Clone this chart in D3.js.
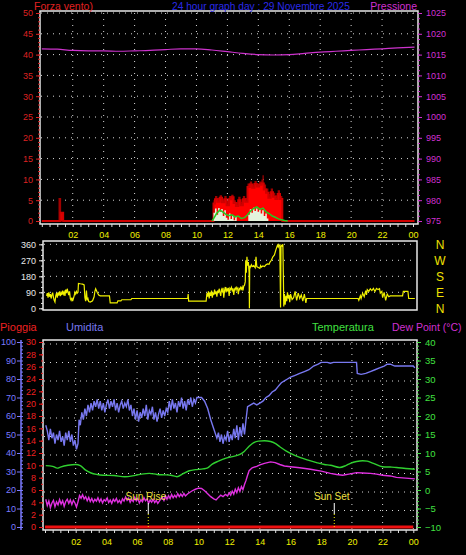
<!DOCTYPE html>
<html><head><meta charset="utf-8">
<script src="https://cdn.jsdelivr.net/npm/d3@7"></script>
<style>
html,body{margin:0;padding:0;background:#000;}
svg{display:block;font-family:"Liberation Sans",Arial,sans-serif;}
</style></head>
<body><div id="chart"></div>
<script>
// ---------------- DATA ----------------
const hourTicks = [2,4,6,8,10,12,14,16,18,20,22,24];
const hourLabels = ["02","04","06","08","10","12","14","16","18","20","22","00"];
const windTicks = [0,5,10,15,20,25,30,35,40,45,50];
const pressTicks = [975,980,985,990,995,1000,1005,1010,1015,1020,1025];
const dirTicks = [0,90,180,270,360];
const dirLetters = ["N","E","S","W","N"];
const humTicks = [0,10,20,30,40,50,60,70,80,90,100];
const rainTicks = [0,2,4,6,8,10,12,14,16,18,20,22,24,26,28,30];
const tempTicks = [-10,-5,0,5,10,15,20,25,30,35,40];

const pressHours = [0,1,2,3,4,5,6,7,8,9,10,11,12,13,14,15,16,17,18,19,20,21,22,23,24.1];
const pressure = [1016.4,1016.3,1016.0,1015.9,1015.9,1015.8,1015.9,1016.0,1016.2,1016.4,1016.4,1016.1,1015.7,1015.3,1015.0,1014.9,1015.0,1015.3,1015.6,1015.8,1016.0,1016.2,1016.4,1016.6,1016.8];

const windGust = [[0,0],[1.05,0],[1.08,5.5],[1.2,5.5],[1.25,0],[11.05,0],[11.1,5.0],[11.2,6.0],[11.35,5.5],[11.5,6.2],[11.65,5.2],[11.8,6.0],[11.95,4.8],[12.1,6.0],[12.25,6.3],[12.4,5.0],[12.55,4.5],[12.7,5.8],[12.85,4.6],[13.0,6.0],[13.15,5.5],[13.3,9.0],[13.45,9.5],[13.6,8.8],[13.75,9.6],[13.9,9.0],[14.05,9.5],[14.2,10.0],[14.27,11.0],[14.35,8.8],[14.5,7.8],[14.65,6.5],[14.8,7.8],[14.95,6.8],[15.1,6.2],[15.25,7.4],[15.4,6.0],[15.55,0],[24.1,0]];
const windSpeed = [[0,0],[1.2,0],[1.22,2.0],[1.35,2.0],[1.38,0],[11.05,0],[11.1,4.2],[11.2,5.2],[11.35,4.6],[11.5,5.6],[11.65,4.5],[11.8,5.2],[11.95,3.8],[12.1,5.2],[12.25,5.7],[12.4,4.3],[12.55,3.6],[12.7,5.0],[12.85,3.8],[13.0,5.2],[13.15,4.6],[13.3,8.2],[13.45,8.8],[13.6,8.0],[13.75,8.9],[13.9,8.3],[14.05,8.7],[14.2,9.0],[14.35,7.6],[14.5,6.8],[14.65,5.6],[14.8,6.9],[14.95,5.8],[15.1,5.3],[15.25,6.5],[15.4,5.3],[15.55,0],[24.1,0]];
const windCalm = [[11.05,0],[11.1,2.0],[11.2,3.0],[11.3,1.5],[11.4,3.1],[11.5,2.2],[11.6,2.9],[11.7,1.2],[11.8,2.6],[11.9,0.8],[12.0,0.3],[12.1,1.8],[12.2,0.5],[12.3,1.4],[12.4,0.2],[12.5,1.0],[12.6,0],[13.3,0],[13.35,1.5],[13.45,2.8],[13.55,2.0],[13.65,3.2],[13.75,2.4],[13.85,3.0],[13.95,2.2],[14.05,2.9],[14.15,1.8],[14.25,2.6],[14.35,1.2],[14.45,1.8],[14.55,0.6],[14.65,0]];
const windAvg = [[11.0,0],[11.1,0.5],[11.3,1.8],[11.5,2.6],[11.7,2.2],[11.9,1.6],[12.1,1.3],[12.3,1.5],[12.5,1.0],[12.7,1.2],[12.9,0.6],[13.1,0.8],[13.3,1.5],[13.5,2.4],[13.7,3.0],[13.9,3.4],[14.1,2.8],[14.3,3.1],[14.5,2.2],[14.7,1.8],[14.9,1.2],[15.1,0.9],[15.3,0.5],[15.5,0.3],[15.7,0.1],[15.9,0]];

const windDir = [[0.1,70],[0.15,85],[0.2,60],[0.25,90],[0.3,65],[0.35,80],[0.4,55],[0.45,75],[0.5,88],[0.55,62],[0.6,45],[0.65,35],[0.7,70],[0.75,85],[0.8,60],[0.85,90],[0.9,72],[0.95,95],[1.0,68],[1.05,88],[1.1,75],[1.15,100],[1.2,80],[1.25,92],[1.3,70],[1.35,105],[1.4,85],[1.45,110],[1.5,90],[1.55,75],[1.6,95],[1.65,55],[1.7,45],[1.75,60],[1.8,40],[1.85,55],[1.9,70],[1.95,90],[2.0,80],[2.05,95],[2.1,85],[2.15,90],[2.18,140],[2.3,138],[2.45,136],[2.55,132],[2.6,60],[2.65,40],[2.7,100],[2.75,45],[2.8,55],[2.85,38],[2.95,35],[3.1,42],[3.2,65],[3.25,95],[3.3,110],[3.4,90],[3.5,75],[3.6,70],[4.2,70],[4.25,30],[4.7,30],[4.75,42],[4.95,42],[5.0,48],[5.6,48],[5.65,55],[9.3,55],[9.33,80],[9.36,40],[10.5,40],[10.55,85],[10.6,65],[10.65,95],[10.7,55],[10.75,90],[10.8,70],[10.85,100],[10.9,60],[10.95,88],[11.0,75],[11.05,105],[11.1,80],[11.15,95],[11.2,65],[11.25,100],[11.3,85],[11.35,110],[11.4,90],[11.45,70],[11.5,105],[11.55,95],[11.6,115],[11.65,60],[11.7,100],[11.75,120],[11.8,90],[11.85,110],[11.9,100],[11.95,115],[12.0,70],[12.05,112],[12.1,105],[12.15,118],[12.2,100],[12.25,112],[12.3,75],[12.35,108],[12.4,115],[12.45,102],[12.5,118],[12.55,110],[12.6,80],[12.65,112],[12.7,105],[12.75,118],[12.8,108],[12.85,120],[12.9,100],[12.95,125],[13.0,130],[13.05,150],[13.08,270],[13.12,200],[13.16,290],[13.2,240],[13.25,260],[13.3,200],[13.32,0],[13.34,240],[13.38,230],[13.45,245],[13.5,235],[13.6,240],[13.7,228],[13.75,290],[13.8,235],[13.9,230],[14.0,225],[14.05,240],[14.1,232],[14.2,238],[14.3,235],[14.4,245],[14.5,250],[14.6,248],[14.66,260],[14.75,270],[14.85,290],[14.95,300],[15.05,330],[15.15,355],[15.2,345],[15.25,358],[15.3,350],[15.35,5],[15.38,355],[15.45,350],[15.5,360],[15.53,200],[15.56,10],[15.6,80],[15.65,20],[15.7,70],[15.75,40],[15.8,90],[15.85,55],[15.9,75],[15.95,35],[16.0,80],[16.1,50],[16.2,60],[16.3,95],[16.4,45],[16.5,85],[16.6,55],[16.7,75],[16.8,40],[16.9,80],[17.0,30],[17.05,55],[20.4,55],[20.45,45],[20.55,70],[20.6,55],[20.7,85],[20.8,65],[20.9,100],[20.95,75],[21.0,105],[21.1,95],[21.2,110],[21.3,100],[21.4,112],[21.5,95],[21.6,112],[21.7,105],[21.8,110],[21.85,85],[21.95,95],[22.0,60],[22.1,90],[22.2,45],[22.3,80],[22.4,65],[22.5,70],[23.3,70],[23.35,95],[23.65,95],[23.7,55],[24.1,55]];

const humidity = [[0.05,55],[0.15,52],[0.25,47],[0.35,53],[0.45,48],[0.55,51],[0.65,45],[0.75,50],[0.85,47],[0.95,52],[1.05,46],[1.15,49],[1.25,44],[1.35,51],[1.45,47],[1.55,52],[1.65,46],[1.75,50],[1.85,44],[1.95,47],[2.05,42],[2.15,45],[2.22,58],[2.3,55],[2.4,62],[2.5,58],[2.6,64],[2.7,60],[2.8,66],[2.9,62],[3.0,67],[3.1,63],[3.2,68],[3.3,65],[3.4,69],[3.5,64],[3.6,68],[3.7,63],[3.8,67],[3.9,62],[4.0,66],[4.1,69],[4.2,64],[4.3,68],[4.4,65],[4.5,69],[4.6,63],[4.7,67],[4.8,62],[4.9,66],[5.0,68],[5.1,64],[5.2,67],[5.3,65],[5.4,69],[5.5,63],[5.6,66],[5.7,60],[5.8,64],[5.9,58],[6.0,63],[6.1,57],[6.2,62],[6.3,59],[6.4,64],[6.5,60],[6.6,66],[6.7,58],[6.8,63],[6.9,61],[7.0,65],[7.1,58],[7.2,62],[7.3,57],[7.4,61],[7.5,64],[7.6,59],[7.7,63],[7.8,60],[7.9,64],[8.0,62],[8.1,68],[8.2,63],[8.3,69],[8.4,64],[8.5,67],[8.6,62],[8.7,68],[8.8,65],[8.9,70],[9.0,64],[9.1,68],[9.2,63],[9.3,69],[9.4,66],[9.5,70],[9.6,65],[9.7,69],[9.8,67],[9.9,70],[10.0,70],[10.2,70],[10.4,68],[10.6,64],[10.8,58],[11.0,53],[11.2,48],[11.3,51],[11.4,46],[11.5,50],[11.6,45],[11.7,49],[11.8,47],[11.9,52],[12.0,46],[12.1,50],[12.2,47],[12.3,53],[12.4,48],[12.5,55],[12.6,47],[12.7,54],[12.8,49],[12.9,56],[13.0,50],[13.1,58],[13.2,65],[13.4,66],[13.6,67],[13.8,66],[14.0,67],[14.2,68],[14.4,70],[14.6,71],[14.8,73],[15.0,74],[15.2,76],[15.4,78],[15.6,79],[15.8,80],[16.0,81],[16.3,82],[16.6,83],[16.9,84],[17.2,85],[17.5,87],[17.8,88],[18.0,89],[18.4,89],[18.6,88.5],[18.8,89],[19.2,89],[19.6,89],[20.0,89],[20.3,89],[20.35,83],[20.6,82.5],[20.9,83],[21.2,84],[21.5,85],[21.8,86],[22.1,87],[22.3,88],[22.5,88],[22.8,87],[23.2,87],[23.6,87],[24.0,87],[24.1,86]];

const temperature = [[0.05,6.6],[0.5,6.4],[0.8,5.9],[1.0,6.2],[1.5,6.7],[2.0,6.9],[2.3,6.6],[2.6,5.5],[3.0,4.6],[3.4,4.2],[3.8,4.0],[4.5,3.9],[5.2,3.6],[5.8,3.9],[6.3,4.3],[6.8,4.5],[7.3,4.2],[7.8,4.1],[8.2,4.0],[8.6,3.6],[9.0,4.4],[9.4,5.2],[9.8,5.5],[10.3,5.7],[10.6,6.0],[10.9,7.0],[11.3,7.8],[11.8,8.6],[12.3,9.1],[12.7,9.6],[13.0,10.5],[13.3,11.8],[13.6,12.8],[13.9,13.2],[14.3,13.3],[14.7,13.1],[15.0,12.6],[15.3,11.7],[15.7,10.6],[16.0,9.9],[16.6,8.8],[17.2,8.0],[17.7,7.4],[18.2,6.9],[18.6,6.7],[19.2,6.1],[19.6,6.6],[19.9,7.2],[20.3,7.7],[20.7,7.9],[21.0,7.8],[21.4,7.2],[22.0,6.3],[22.5,6.2],[22.9,6.1],[23.5,5.8],[24.1,5.6]];

const dewPoint = [[0.05,-2.5],[0.15,-4.2],[0.25,-3.0],[0.35,-4.8],[0.45,-3.5],[0.55,-2.8],[0.65,-4.5],[0.75,-3.2],[0.85,-4.0],[0.95,-2.6],[1.05,-3.8],[1.15,-2.9],[1.25,-4.4],[1.35,-3.1],[1.45,-2.5],[1.55,-3.6],[1.65,-2.7],[1.75,-3.9],[1.85,-2.8],[1.95,-3.5],[2.05,-4.6],[2.15,-3.2],[2.25,-1.5],[2.35,-2.2],[2.45,-1.3],[2.55,-2.4],[2.65,-1.8],[2.75,-2.9],[2.85,-2.0],[2.95,-3.1],[3.05,-2.3],[3.15,-3.3],[3.25,-2.5],[3.35,-3.0],[3.45,-2.1],[3.55,-3.2],[3.65,-2.4],[3.75,-3.5],[3.85,-2.6],[3.95,-3.0],[4.05,-2.2],[4.15,-3.4],[4.25,-2.7],[4.35,-3.6],[4.45,-2.5],[4.55,-3.1],[4.65,-2.3],[4.75,-3.4],[4.85,-2.8],[4.95,-3.6],[5.05,-2.4],[5.15,-3.0],[5.25,-1.9],[5.35,-2.8],[5.45,-2.2],[5.55,-3.3],[5.65,-2.5],[5.75,-3.1],[5.85,-2.0],[5.95,-2.9],[6.05,-2.3],[6.15,-3.5],[6.25,-2.6],[6.35,-3.2],[6.45,-2.1],[6.55,-2.9],[6.65,-2.4],[6.75,-3.6],[6.85,-2.7],[6.95,-3.3],[7.05,-2.5],[7.15,-3.4],[7.25,-2.8],[7.35,-3.6],[7.45,-3.0],[7.55,-2.4],[7.65,-2.0],[7.75,-2.8],[7.85,-1.6],[7.95,-2.5],[8.05,-1.5],[8.15,-2.3],[8.25,-1.2],[8.35,-2.1],[8.45,-1.4],[8.55,-2.0],[8.65,-1.0],[8.75,-1.8],[8.85,-1.1],[8.95,-1.7],[9.05,-0.9],[9.15,-1.6],[9.3,-1.0],[9.45,-0.6],[9.6,-0.2],[9.8,0.2],[10.0,0.5],[10.2,0.4],[10.4,-0.2],[10.6,-1.0],[10.8,-1.8],[11.0,-2.4],[11.15,-2.7],[11.3,-2.0],[11.45,-1.4],[11.6,-1.8],[11.75,-1.2],[11.9,-1.6],[12.0,-0.8],[12.1,-1.4],[12.2,-0.3],[12.3,-1.1],[12.4,0.2],[12.5,-0.7],[12.6,0.6],[12.7,-0.4],[12.8,0.9],[12.9,0.1],[13.0,1.5],[13.1,2.6],[13.2,4.0],[13.3,5.2],[13.5,6.0],[13.8,6.4],[14.0,6.8],[14.3,7.2],[14.7,7.6],[15.0,7.4],[15.3,6.9],[15.6,6.5],[16.0,6.3],[16.6,6.0],[17.3,5.6],[18.0,5.1],[18.6,4.5],[19.0,4.2],[19.4,4.0],[19.8,4.3],[20.3,4.7],[20.7,4.6],[21.2,4.5],[21.6,4.3],[22.0,4.0],[22.5,3.8],[22.9,3.4],[23.5,3.2],[24.1,3.0]];

const rain = [[0,0],[24,0]];
const sunEvents = [{label:"Sun Rise", hour:6.73},{label:"Sun Set", hour:18.85}];

const titleText = "24 hour graph day : 29 Novembre 2025";

// ---------------- DRAW ----------------
const W = 466, H = 555;
const svg = d3.select("#chart").append("svg").attr("width", W).attr("height", H).style("background","#000");
const FONT = "\"Liberation Sans\",Arial,sans-serif";
const dot = "1,5";
const GRID = "#d8d8d8";
const fmtInt = d3.format("d");

function styleAxis(g, color, fs){
  g.select(".domain").remove();
  g.selectAll(".tick line").attr("stroke", color);
  g.selectAll(".tick text").attr("fill", color).style("font-size", fs+"px").style("font-family", FONT);
}
function txt(x,y,s,color,size,anchor){
  return svg.append("text").attr("x",x).attr("y",y).text(s).attr("fill",color)
    .style("font-size",size+"px").style("font-family",FONT).attr("text-anchor",anchor||"start");
}

// ===== Top panel =====
const xT = d3.scaleLinear().domain([0,24]).range([41.8,413]);
const yW = d3.scaleLinear().domain([0,50]).range([221,13]);
const yP = d3.scaleLinear().domain([975,1025]).range([221,13]);
const gTop = svg.append("g");
gTop.selectAll(".hg").data(windTicks.filter(d=>d>0)).join("line")
  .attr("x1",41).attr("x2",417).attr("y1",d=>yW(d)).attr("y2",d=>yW(d))
  .attr("stroke",GRID).attr("stroke-dasharray",dot);
gTop.selectAll(".vg").data(hourTicks).join("line")
  .attr("x1",d=>xT(d)).attr("x2",d=>xT(d)).attr("y1",13).attr("y2",223)
  .attr("stroke",GRID).attr("stroke-dasharray",dot);

const areaW = d3.area().x(d=>xT(d[0])).y0(yW(0)).y1(d=>yW(d[1])).curve(d3.curveStepAfter);
gTop.append("path").datum(windGust).attr("d",areaW).attr("fill","#a00000");
gTop.append("path").datum(windSpeed).attr("d",areaW).attr("fill","#ff0000");
gTop.append("path").datum(windSpeed).attr("d",d3.line().x(d=>xT(d[0])).y(d=>yW(d[1])).curve(d3.curveStepAfter)).attr("fill","none").attr("stroke","#d00000").attr("stroke-width",2);
gTop.append("path").datum(windCalm).attr("d",areaW).attr("fill","#e4f4dc");
gTop.append("path").datum(windAvg).attr("d",d3.line().x(d=>xT(d[0])).y(d=>yW(d[1]))).attr("fill","none").attr("stroke","#22cc22").attr("stroke-width",1.5);
gTop.append("path").datum(pressHours.map((h,i)=>[h,pressure[i]]))
  .attr("d",d3.line().x(d=>xT(d[0])).y(d=>yP(d[1])).curve(d3.curveMonotoneX))
  .attr("fill","none").attr("stroke","#cc33cc").attr("stroke-width",1.2);

gTop.append("rect").attr("x",40).attr("y",11).attr("width",378).attr("height",213)
  .attr("fill","none").attr("stroke","#e8e8e8").attr("stroke-width",1.5);

gTop.append("g").attr("transform","translate(40,0)")
  .call(d3.axisLeft(yW).tickValues(d3.range(0,51,1)).tickSize(2).tickFormat(""))
  .call(g=>styleAxis(g,"#dd2222",9));
gTop.append("g").attr("transform","translate(40,0)")
  .call(d3.axisLeft(yW).tickValues(windTicks).tickSize(4).tickPadding(3).tickFormat(fmtInt))
  .call(g=>styleAxis(g,"#dd2222",9));
gTop.append("g").attr("transform","translate(418,0)")
  .call(d3.axisRight(yP).tickValues(d3.range(975,1025.1,1.25)).tickSize(2).tickFormat(""))
  .call(g=>styleAxis(g,"#d030d0",9));
gTop.append("g").attr("transform","translate(418,0)")
  .call(d3.axisRight(yP).tickValues(pressTicks).tickSize(4).tickPadding(4).tickFormat(fmtInt))
  .call(g=>styleAxis(g,"#d030d0",9));
gTop.append("g").attr("transform","translate(0,224)")
  .call(d3.axisBottom(xT).tickValues(d3.range(0,24.01,0.5)).tickSize(3).tickFormat(""))
  .call(g=>styleAxis(g,"#e0e0e0",9));
gTop.append("g").attr("transform","translate(0,224)")
  .call(d3.axisBottom(xT).tickValues(hourTicks).tickSize(0).tickPadding(8).tickFormat((d,i)=>hourLabels[i]))
  .call(g=>styleAxis(g,"#f0f000",9));

txt(34,10,"Forza vento)","#e02020",10.5);
txt(172,10,titleText,"#2a2ae8",10.2);
txt(417,10,"Pressione","#d030d0",10.5,"end");

// ===== Middle panel =====
const xM = d3.scaleLinear().domain([0,24]).range([45,413.3]);
const yD = d3.scaleLinear().domain([0,360]).range([308.3,244.3]);
const gMid = svg.append("g");
gMid.selectAll(".hg").data(dirTicks.filter(d=>d>0)).join("line")
  .attr("x1",44).attr("x2",416).attr("y1",d=>yD(d)).attr("y2",d=>yD(d))
  .attr("stroke",GRID).attr("stroke-dasharray",dot);
gMid.append("path").datum(windDir)
  .attr("d",d3.line().x(d=>xM(d[0])).y(d=>yD(d[1])))
  .attr("fill","none").attr("stroke","#f0f000").attr("stroke-width",1.2);
gMid.append("rect").attr("x",43).attr("y",241).attr("width",374).attr("height",69)
  .attr("fill","none").attr("stroke","#e8e8e8").attr("stroke-width",1.5);
gMid.append("g").attr("transform","translate(43,0)")
  .call(d3.axisLeft(yD).tickValues(d3.range(0,361,30)).tickSize(2).tickFormat(""))
  .call(g=>styleAxis(g,"#e0e0e0",9));
gMid.append("g").attr("transform","translate(43,0)")
  .call(d3.axisLeft(yD).tickValues(dirTicks).tickSize(4).tickPadding(3).tickFormat(fmtInt))
  .call(g=>styleAxis(g,"#e8e8e8",9));
gMid.selectAll(".dl").data(dirTicks).join("text")
  .attr("x",440).attr("y",d=>yD(d)+5).attr("text-anchor","middle")
  .text((d,i)=>dirLetters[i]).attr("fill","#f0e000")
  .style("font-size","12px").style("font-family",FONT);

// ===== Bottom panel =====
const xB = xM;
const yH = d3.scaleLinear().domain([0,100]).range([527,342]);
const yR = d3.scaleLinear().domain([0,30]).range([527,342]);
const yT = d3.scaleLinear().domain([-10,40]).range([527,342]);
const gBot = svg.append("g");
gBot.selectAll(".hg").data(humTicks.filter(d=>d>0)).join("line")
  .attr("x1",44).attr("x2",416).attr("y1",d=>yH(d)+2).attr("y2",d=>yH(d)+2)
  .attr("stroke",GRID).attr("stroke-dasharray",dot);
gBot.selectAll(".vg").data(hourTicks).join("line")
  .attr("x1",d=>xB(d)).attr("x2",d=>xB(d)).attr("y1",342).attr("y2",529)
  .attr("stroke",GRID).attr("stroke-dasharray",dot);

gBot.append("path").datum(humidity).attr("d",d3.line().x(d=>xB(d[0])).y(d=>yH(d[1]))).attr("fill","none").attr("stroke","#7878f0").attr("stroke-width",1.4);
gBot.append("path").datum(temperature).attr("d",d3.line().x(d=>xB(d[0])).y(d=>yT(d[1])).curve(d3.curveMonotoneX)).attr("fill","none").attr("stroke","#30d030").attr("stroke-width",1.4);
gBot.append("path").datum(dewPoint).attr("d",d3.line().x(d=>xB(d[0])).y(d=>yT(d[1]))).attr("fill","none").attr("stroke","#e030e0").attr("stroke-width",1.4);
gBot.append("path").datum(rain).attr("d",d3.line().x(d=>xB(d[0])).y(d=>yR(d[1]))).attr("fill","none").attr("stroke","#ee1010").attr("stroke-width",3);

sunEvents.forEach(e=>{
  const x = xB(e.hour);
  gBot.append("line").attr("x1",x).attr("x2",x).attr("y1",503).attr("y2",514).attr("stroke","#ffffff").attr("stroke-width",1);
  gBot.append("line").attr("x1",x).attr("x2",x).attr("y1",514).attr("y2",529).attr("stroke","#f0f000").attr("stroke-dasharray","1,2");
  txt(x-2.5,500,e.label,"#f0e040",10,"middle");
});

gBot.append("rect").attr("x",43).attr("y",340).attr("width",374).attr("height",190)
  .attr("fill","none").attr("stroke","#e8e8e8").attr("stroke-width",1.5);

gBot.append("line").attr("x1",21).attr("x2",21).attr("y1",340).attr("y2",530).attr("stroke","#7b7bff").attr("stroke-width",1.5);
gBot.append("g").attr("transform","translate(21,0)")
  .call(d3.axisRight(yH).tickValues(d3.range(0,101,2)).tickSize(2).tickFormat(""))
  .call(g=>styleAxis(g,"#7b7bff",9));
gBot.append("g").attr("transform","translate(21,0)")
  .call(d3.axisLeft(yH).tickValues(humTicks).tickSize(4).tickPadding(1).tickFormat(fmtInt))
  .call(g=>styleAxis(g,"#7b7bff",9));
gBot.append("g").attr("transform","translate(43,0)")
  .call(d3.axisLeft(yR).tickValues(d3.range(0,31,1)).tickSize(2).tickFormat(""))
  .call(g=>styleAxis(g,"#ee2020",9));
gBot.append("g").attr("transform","translate(43,0)")
  .call(d3.axisLeft(yR).tickValues(rainTicks).tickSize(4).tickPadding(3).tickFormat(fmtInt))
  .call(g=>styleAxis(g,"#ee2020",9));
gBot.append("g").attr("transform","translate(417,0)")
  .call(d3.axisRight(yT).tickValues(d3.range(-10,41,1)).tickSize(2).tickFormat(""))
  .call(g=>styleAxis(g,"#40e040",9));
gBot.append("g").attr("transform","translate(417,0)")
  .call(d3.axisRight(yT).tickValues(tempTicks).tickSize(4).tickPadding(4).tickFormat(fmtInt))
  .call(g=>styleAxis(g,"#40e040",9.5));
gBot.append("g").attr("transform","translate(0,530)")
  .call(d3.axisBottom(xB).tickValues(d3.range(0,24.01,0.5)).tickSize(3).tickFormat(""))
  .call(g=>styleAxis(g,"#e0e0e0",9));
gBot.append("g").attr("transform","translate(0,530)")
  .call(d3.axisBottom(xB).tickValues(hourTicks).tickSize(0).tickPadding(8.5).tickFormat((d,i)=>hourLabels[i]))
  .call(g=>styleAxis(g,"#f0f000",9));

txt(0,331,"Pioggia","#ee2020",11);
txt(66,331,"Umidita","#7878f0",11);
txt(312,331,"Temperatura","#40e040",11);
txt(392,331,"Dew Point (°C)","#d030d0",10.5);
</script></body></html>
